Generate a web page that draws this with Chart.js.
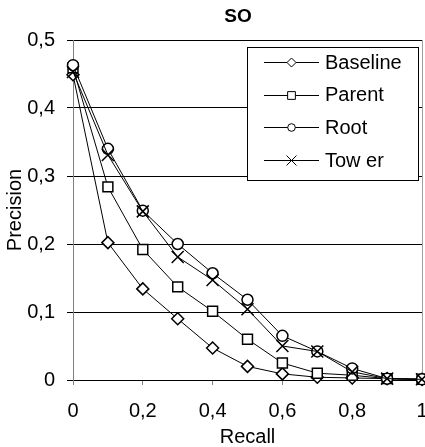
<!DOCTYPE html>
<html>
<head>
<meta charset="utf-8">
<script src="https://cdn.jsdelivr.net/npm/chart.js@4/dist/chart.umd.min.js"></script>
<style>
  html, body { margin: 0; padding: 0; background: #fff; }
  #wrap { width: 425px; height: 447px; }
</style>
</head>
<body>
<div id="wrap"><canvas id="chart" width="425" height="447"></canvas></div>
<script>
// ── Données ────────────────────────────────────────────
const recall   = [0, 0.1, 0.2, 0.3, 0.4, 0.5, 0.6, 0.7, 0.8, 0.9, 1];
const baseline = [0.449, 0.202, 0.134, 0.090, 0.047, 0.020, 0.009, 0.004, 0.003, 0.002, 0.001];
const parent   = [0.459, 0.284, 0.192, 0.137, 0.101, 0.060, 0.025, 0.010, 0.007, 0.002, 0.001];
const root     = [0.463, 0.340, 0.249, 0.200, 0.157, 0.118, 0.065, 0.042, 0.017, 0.002, 0.001];
const tower    = [0.453, 0.331, 0.248, 0.181, 0.147, 0.104, 0.050, 0.042, 0.012, 0.002, 0.001];

const seriesNames = ['Baseline', 'Parent', 'Root', 'Tow er'];
const seriesData  = [baseline, parent, root, tower];
const styles      = ['rectRot', 'rect', 'circle', 'crossRot'];
const radii       = [6, 7, 5.5, 8.5];
const legendRadii = [4.5, 5.5, 3.8, 7];

const FONT = "'Liberation Sans', Arial, Helvetica, sans-serif";

function fmt(v) {
  return String(Math.round(v * 10) / 10).replace('.', ',');
}

function noPad(scale) {
  scale.paddingLeft = 0;
  scale.paddingRight = 0;
  scale.paddingTop = 0;
  scale.paddingBottom = 0;
}

// ── Titre + légende dessinés dans le graphique ─────────
const overlay = {
  id: 'overlay',
  afterDraw(chart) {
    const ctx = chart.ctx;
    ctx.save();
    // titre
    ctx.fillStyle = '#000';
    ctx.font = 'bold 19px ' + FONT;
    ctx.textAlign = 'center';
    ctx.textBaseline = 'middle';
    ctx.fillText('SO', 238, 17);

    // légende
    const bx = 247.5, by = 47.5, bw = 171, bh = 133;
    ctx.fillStyle = '#fff';
    ctx.fillRect(bx, by, bw, bh);
    ctx.strokeStyle = '#000';
    ctx.lineWidth = 1;
    ctx.strokeRect(bx, by, bw, bh);

    ctx.font = '20px ' + FONT;
    ctx.textAlign = 'left';
    seriesNames.forEach((name, i) => {
      const y = 62 + i * 32.7;
      ctx.strokeStyle = '#000';
      ctx.lineWidth = 1;
      ctx.beginPath();
      ctx.moveTo(264, Math.round(y) + 0.5);
      ctx.lineTo(319, Math.round(y) + 0.5);
      ctx.stroke();
      ctx.fillStyle = '#fff';
      Chart.helpers.drawPoint(ctx, {
        pointStyle: styles[i], rotation: 0, radius: legendRadii[i], borderWidth: 1.5
      }, 291.5, Math.round(y) + 0.5);
      ctx.fillStyle = '#000';
      ctx.fillText(name, 325, y + 1);
    });
    ctx.restore();
  }
};

const datasets = seriesNames.map((name, i) => ({
  label: name,
  data: recall.map((r, j) => ({ x: r, y: seriesData[i][j] })),
  borderColor: '#000',
  borderWidth: 1,
  backgroundColor: '#fff',
  pointStyle: styles[i],
  pointRadius: radii[i],
  pointBorderWidth: 1.5,
  pointBackgroundColor: '#fff',
  pointBorderColor: '#000',
  tension: 0,
  clip: false,
  order: 3 - i,
}));

new Chart(document.getElementById('chart'), {
  type: 'line',
  data: { datasets },
  options: {
    responsive: false,
    animation: false,
    devicePixelRatio: 1,
    layout: { autoPadding: false, padding: { top: 40, right: 3, left: 0, bottom: 0 } },
    plugins: {
      legend: { display: false },
      title: { display: false },
      tooltip: { enabled: false },
    },
    scales: {
      x: {
        type: 'linear',
        min: 0,
        max: 1,
        afterFit(scale) { scale.height = 67; noPad(scale); },
        ticks: {
          stepSize: 0.2,
          autoSkip: false,
          maxRotation: 0,
          padding: 14,
          color: '#000',
          font: { family: FONT, size: 20 },
          callback: v => fmt(v),
        },
        grid: {
          color: c => (c.tick && c.tick.value === 1 ? '#a0a0a0' : 'rgba(0,0,0,0)'),
          tickColor: '#808080',
          tickLength: 5,
          lineWidth: 1,
        },
        border: { display: true, color: '#000', width: 1 },
        title: {
          display: true,
          text: 'Recall',
          color: '#000',
          font: { family: FONT, size: 20, lineHeight: 1 },
          padding: { top: 0, bottom: 0 },
        },
      },
      y: {
        type: 'linear',
        min: 0,
        max: 0.5,
        afterFit(scale) { scale.width = 73; noPad(scale); },
        ticks: {
          stepSize: 0.1,
          padding: 12,
          color: '#000',
          font: { family: FONT, size: 20 },
          callback: v => fmt(v),
        },
        grid: {
          color: '#000',
          tickColor: '#000',
          tickLength: 6,
          lineWidth: 1,
        },
        border: { display: true, color: '#808080', width: 1 },
        title: {
          display: true,
          text: 'Precision',
          color: '#000',
          font: { family: FONT, size: 20, lineHeight: 1 },
          padding: { top: 5, bottom: 0 },
        },
      },
    },
  },
  plugins: [overlay],
});
</script>
</body>
</html>
